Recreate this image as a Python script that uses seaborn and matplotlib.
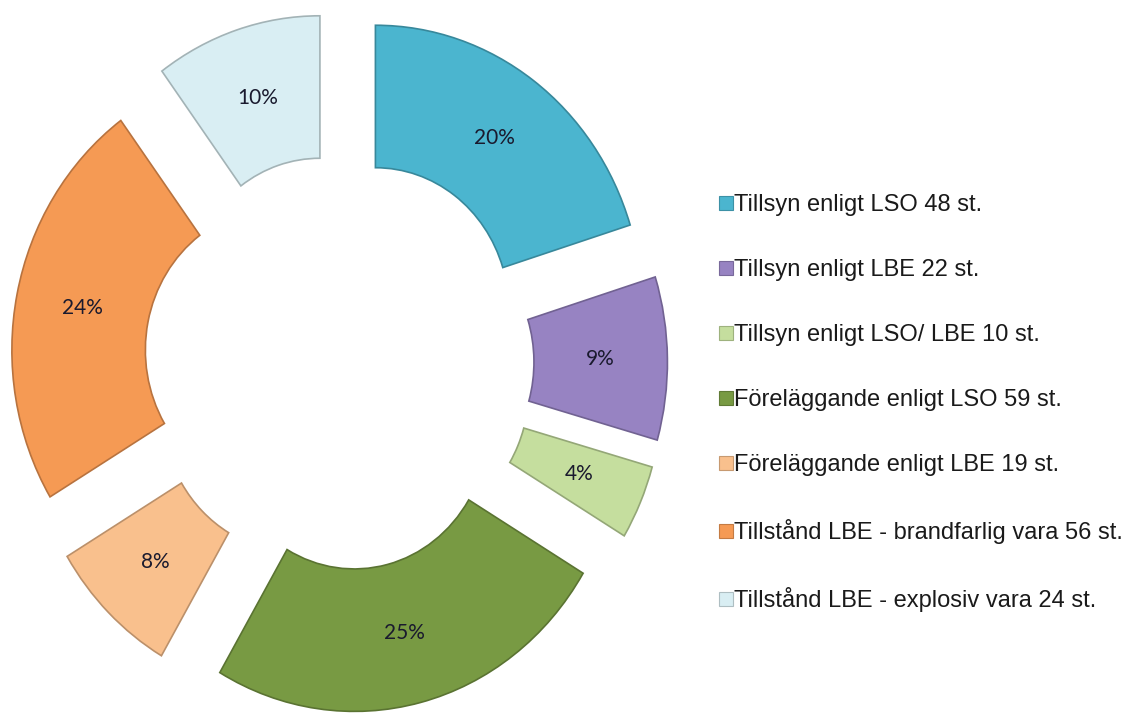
import matplotlib
matplotlib.use('Agg')
import matplotlib.pyplot as plt
import seaborn as sns
from matplotlib.lines import Line2D
from matplotlib.colors import to_rgb

# Data
labels = ['Tillsyn enligt LSO 48 st.',
          'Tillsyn enligt LBE 22 st.',
          'Tillsyn enligt LSO/ LBE 10 st.',
          'Föreläggande enligt LSO 59 st.',
          'Föreläggande enligt LBE 19 st.',
          'Tillstånd LBE - brandfarlig vara 56 st.',
          'Tillstånd LBE - explosiv vara 24 st.']
counts = [48, 22, 10, 59, 19, 56, 24]
colors = ['#4BB5CF', '#9783C2', '#C5DE9E', '#789A43', '#F9C08D', '#F59A54', '#D9EEF3']

sns.set_theme(style='white')
plt.rcParams['font.family'] = ['Liberation Sans', 'DejaVu Sans']

fig = plt.figure(figsize=(11.4, 7.18), dpi=100)
ax = fig.add_axes([0, 0, 700 / 1140, 1])

palette = sns.color_palette(colors)
wedges, texts, autotexts = ax.pie(
    counts, colors=palette, startangle=90, counterclock=False,
    radius=1, explode=[0.23] * len(counts), pctdistance=0.75,
    autopct='%1.0f%%', wedgeprops=dict(width=0.5, linewidth=1.2),
    textprops=dict(fontsize=15, family=['Lato', 'DejaVu Sans'], color='#1a1a2e'))

# darker outline per wedge (bevel-ish look)
for w, c in zip(wedges, palette):
    r, g, b = to_rgb(c)
    w.set_edgecolor((r * 0.75, g * 0.75, b * 0.75))

ax.set_aspect('auto')
ax.set_xlim(-1.270, 1.352)
ax.set_ylim(-1.246, 1.274)
ax.axis('off')

# Legend
def darker(c, f=0.8):
    r, g, b = to_rgb(c)
    return (r * f, g * f, b * f)

handles = [Line2D([], [], marker='s', linestyle='none', markersize=10,
                  markerfacecolor=c, markeredgecolor=darker(c), markeredgewidth=0.8)
           for c in palette]
fig.legend(handles, labels, loc='center left', bbox_to_anchor=(719 / 1140, 1 - 403 / 718),
           frameon=False, fontsize=17, handlelength=0.6, handletextpad=0.05,
           labelspacing=1.82, borderpad=0, borderaxespad=0, labelcolor='#1a1a1a')

fig.savefig('out.png', dpi=100, facecolor='white')
